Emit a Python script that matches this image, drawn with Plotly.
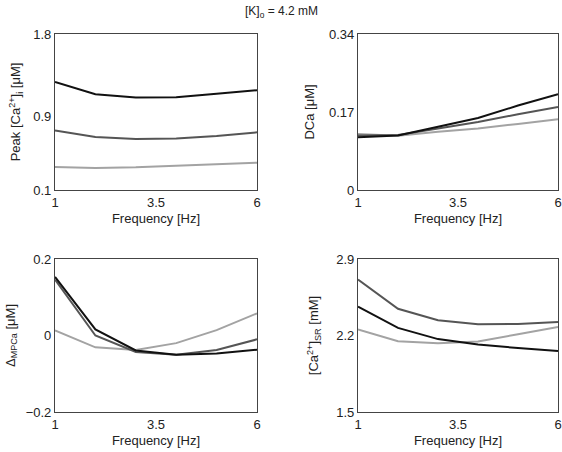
import plotly.graph_objects as go

freq = [1, 2, 3, 4, 5, 6]

peak_black = [1.278, 1.144, 1.108, 1.11, 1.148, 1.188]
peak_dark = [0.749, 0.677, 0.655, 0.662, 0.688, 0.728]
peak_light = [0.351, 0.34, 0.347, 0.362, 0.376, 0.398]

dca_black = [0.115, 0.119, 0.138, 0.157, 0.184, 0.209]
dca_dark = [0.119, 0.12, 0.134, 0.148, 0.165, 0.181]
dca_light = [0.122, 0.118, 0.127, 0.134, 0.144, 0.154]

mpca_black = [0.153, 0.016, -0.039, -0.05, -0.047, -0.037]
mpca_dark = [0.146, 0.0, -0.043, -0.05, -0.038, -0.01]
mpca_light = [0.013, -0.031, -0.038, -0.02, 0.014, 0.058]

sr_black = [2.464, 2.27, 2.167, 2.118, 2.085, 2.058]
sr_dark = [2.712, 2.445, 2.339, 2.303, 2.306, 2.324]
sr_light = [2.255, 2.148, 2.13, 2.145, 2.212, 2.279]

x_ticks = [1, 3.5, 6]
peak_ticks = [0.1, 0.9, 1.8]
dca_ticks = [0, 0.17, 0.34]
mpca_ticks = [-0.2, 0, 0.2]
sr_ticks = [1.5, 2.2, 2.9]

colors = {"black": "#111111", "dark": "#555555", "light": "#a3a3a3"}

panels = [
    ("x", "y", [(peak_light, "light"), (peak_dark, "dark"), (peak_black, "black")]),
    ("x2", "y2", [(dca_light, "light"), (dca_dark, "dark"), (dca_black, "black")]),
    ("x3", "y3", [(mpca_light, "light"), (mpca_dark, "dark"), (mpca_black, "black")]),
    ("x4", "y4", [(sr_light, "light"), (sr_dark, "dark"), (sr_black, "black")]),
]

fig = go.Figure()
for xa, ya, series in panels:
    for vals, c in series:
        fig.add_trace(go.Scatter(x=freq, y=vals, mode="lines", xaxis=xa, yaxis=ya,
                                 line=dict(color=colors[c], width=2), showlegend=False))

font = dict(family="Liberation Sans, Arial, sans-serif", size=13, color="#222")

def xax(domain, anchor):
    return dict(domain=domain, anchor=anchor, range=[1, 6], tickvals=x_ticks,
                ticktext=["1", "3.5", "6"], showgrid=False, zeroline=False,
                showline=True, linecolor="#444", linewidth=1.2, mirror=True, ticks="",
                automargin=False,
                title=dict(text="Frequency [Hz]", standoff=5, font=font), tickfont=font)

def yax(domain, anchor, rng, tv, tt, title, standoff):
    return dict(domain=domain, anchor=anchor, range=rng, tickvals=tv, ticktext=tt,
                showgrid=False, zeroline=False, showline=True, linecolor="#444",
                linewidth=1.2, mirror=True, ticks="", automargin=False,
                title=dict(text=title, standoff=standoff, font=font), tickfont=font)

L, R, T, B = 55, 4, 34, 40
W = 562 - L - R
H = 452 - T - B
dl = [0, 202 / W]
dr = [(358 - L) / W, 1.0]
dt = [(452 - B - 190) / H, 1.0]
db = [0, (452 - B - 259) / H]

fig.update_layout(
    width=562, height=452, margin=dict(l=L, r=R, t=T, b=B),
    paper_bgcolor="white", plot_bgcolor="white", font=font,
    xaxis=xax(dl, "y"), yaxis=yax(dt, "x", [0.1, 1.8], peak_ticks, ["0.1", "0.9", "1.8"],
                                   "Peak [Ca<sup>2+</sup>]<sub>i</sub> [μM]", 9),
    xaxis2=xax(dr, "y2"), yaxis2=yax(dt, "x2", [0, 0.34], dca_ticks, ["0", "0.17", "0.34"],
                                      "DCa [μM]", 11),
    xaxis3=xax(dl, "y3"), yaxis3=yax(db, "x3", [-0.2, 0.2], mpca_ticks, ["−0.2", "0", "0.2"],
                                      "Δ<sub>MPCa</sub> [μM]", 7),
    xaxis4=xax(dr, "y4"), yaxis4=yax(db, "x4", [1.5, 2.9], sr_ticks, ["1.5", "2.2", "2.9"],
                                      "[Ca<sup>2+</sup>]<sub>SR</sub> [mM]", 14),
    annotations=[dict(text="[K]<sub>o</sub> = 4.2 mM", x=(281 - L) / W, y=(452 - B - 12) / H,
                      xref="paper", yref="paper", showarrow=False,
                      font=dict(family="Liberation Sans, Arial, sans-serif", size=12, color="#222"),
                      xanchor="center", yanchor="middle")],
)

fig.write_html("out.html", config={"displayModeBar": False},
               post_script="document.body.style.margin='0px';document.body.style.overflow='hidden';")
